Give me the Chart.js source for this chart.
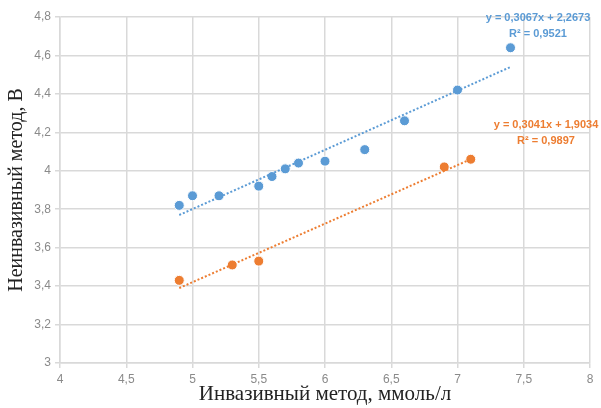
<!DOCTYPE html>
<html><head><meta charset="utf-8">
<script src="https://cdn.jsdelivr.net/npm/chart.js@4"></script>
<style>html,body{margin:0;padding:0;background:#fff}#wrap{width:601px;height:408px}</style>
</head><body><div id="wrap"><canvas id="c" width="601" height="408"></canvas></div>
<script>
const blueX = [4.9, 5.0, 5.2, 5.5, 5.6, 5.7, 5.8, 6.0, 6.3, 6.6, 7.0, 7.4];
const blueY = [3.82, 3.87, 3.87, 3.92, 3.97, 4.01, 4.04, 4.05, 4.11, 4.26, 4.42, 4.64];
const orangeX = [4.9, 5.3, 5.5, 6.9, 7.1];
const orangeY = [3.43, 3.51, 3.53, 4.02, 4.06];
const blueTrendX = [4.9, 7.4];
const blueTrendY = [3.77, 4.54];
const orangeTrendX = [4.9, 7.1];
const orangeTrendY = [3.39, 4.06];
const blueLabel = ["y = 0,3067x + 2,2673", "R² = 0,9521"];
const orangeLabel = ["y = 0,3041x + 1,9034", "R² = 0,9897"];
const xTitle = "Инвазивный метод, ммоль/л";
const yTitle = "Неинвазивный метод, В";

const BLUE = "#5B9BD5", ORANGE = "#ED7D31";
const pts = (xs, ys) => xs.map((x, i) => ({x, y: ys[i]}));

const labelPlugin = {
  id: 'eqLabels',
  afterDatasetsDraw(chart) {
    const ctx = chart.ctx;
    ctx.save();
    ctx.font = "bold 11px 'Liberation Sans Narrow', 'Liberation Sans', sans-serif";
    ctx.textAlign = "center";
    ctx.textBaseline = "middle";
    ctx.fillStyle = BLUE;
    ctx.fillText(blueLabel[0], 538, 18);
    ctx.fillText(blueLabel[1], 538, 34);
    ctx.fillStyle = ORANGE;
    ctx.fillText(orangeLabel[0], 546, 125);
    ctx.fillText(orangeLabel[1], 546, 141);
    ctx.restore();
  }
};

new Chart(document.getElementById('c'), {
  type: 'scatter',
  data: {
    datasets: [
      {data: pts(blueTrendX, blueTrendY), type: 'line', showLine: true, borderColor: BLUE, borderWidth: 2, borderDash: [2, 2], pointRadius: 0, fill: false},
      {data: pts(orangeTrendX, orangeTrendY), type: 'line', showLine: true, borderColor: ORANGE, borderWidth: 2, borderDash: [2, 2], pointRadius: 0, fill: false},
      {data: pts(blueX, blueY), backgroundColor: BLUE, borderColor: '#ffffff', borderWidth: 1, pointRadius: 5},
      {data: pts(orangeX, orangeY), backgroundColor: ORANGE, borderColor: '#ffffff', borderWidth: 1, pointRadius: 5}
    ]
  },
  options: {
    responsive: false,
    animation: false,
    layout: {padding: {left: 0, right: 11, top: 17, bottom: 0}},
    plugins: {legend: {display: false}, tooltip: {enabled: false}},
    scales: {
      x: {
        type: 'linear', min: 4, max: 8,
        ticks: {stepSize: 0.5, color: '#8a8a8a', font: {family: "'Liberation Sans Narrow', 'Liberation Sans'", size: 12}, padding: 4,
          callback: v => String(v).replace('.', ',')},
        grid: {color: '#d9d9d9', lineWidth: 1.5, tickLength: 5},
        border: {color: '#d9d9d9', width: 1.5},
        title: {display: true, text: xTitle, color: '#222', font: {family: "'Liberation Serif'", size: 21}, padding: {top: 0, bottom: 1}},
        afterFit: s => { s.height = 45; }
      },
      y: {
        type: 'linear', min: 3, max: 4.8,
        ticks: {stepSize: 0.2, color: '#8a8a8a', font: {family: "'Liberation Sans Narrow', 'Liberation Sans'", size: 12}, padding: 4,
          callback: v => String(Math.round(v * 10) / 10).replace('.', ',')},
        grid: {color: '#d9d9d9', lineWidth: 1.5, tickLength: 5},
        border: {color: '#d9d9d9', width: 1.5},
        title: {display: true, text: yTitle, color: '#222', font: {family: "'Liberation Serif'", size: 20}, padding: {top: 5, bottom: 0}},
        afterFit: s => { s.width = 60; }
      }
    }
  },
  plugins: [labelPlugin]
});
</script></body></html>
